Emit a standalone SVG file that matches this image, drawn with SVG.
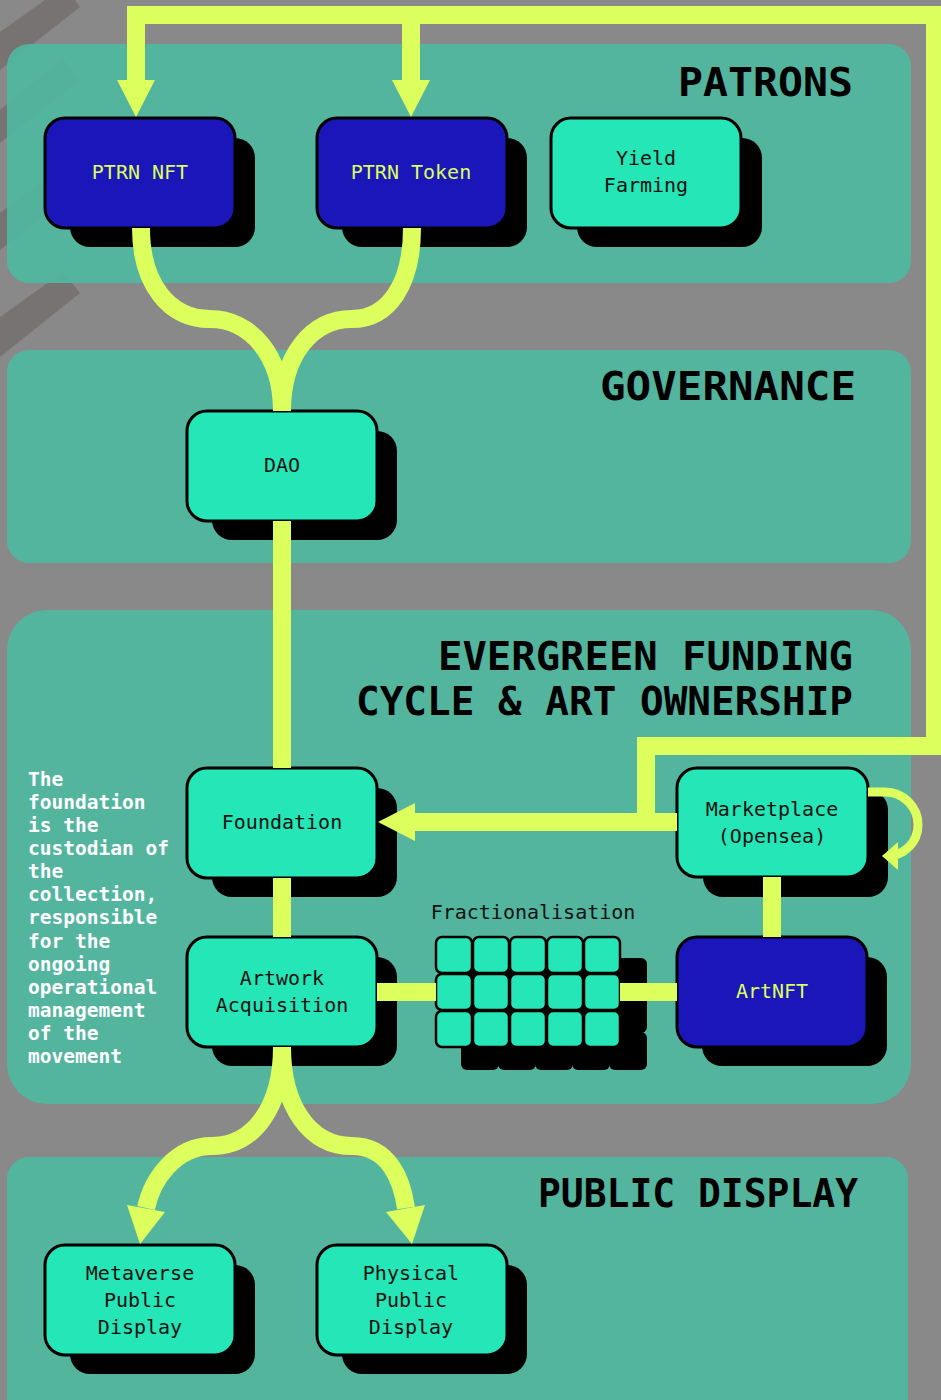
<svg xmlns="http://www.w3.org/2000/svg" width="941" height="1400" viewBox="0 0 941 1400">
<defs>
<style>
.panel{fill:#4bbda3;fill-opacity:0.85}
.stripe{fill:#787373}
.shadow{fill:#000}
.box{fill:#25e6b6;stroke:#000;stroke-width:3}
.boxb{fill:#1b16b9;stroke:#000;stroke-width:3}
.cell{fill:#25e6b6;stroke:#000;stroke-width:2.5}
.lbl{font-family:"DejaVu Sans Mono","Liberation Mono",monospace;font-size:20px;fill:#111;text-anchor:middle}
.lbly{font-family:"DejaVu Sans Mono","Liberation Mono",monospace;font-size:20px;fill:#dcff5e;text-anchor:middle}
.title{font-family:"DejaVu Sans Mono","Liberation Mono",monospace;font-size:39px;font-weight:bold;fill:#000}
.note{font-family:"DejaVu Sans Mono","Liberation Mono",monospace;font-size:19.5px;font-weight:bold;fill:#fff}
.conn{fill:none;stroke:#dcff5e;stroke-width:18;stroke-linejoin:miter}
.thin{fill:none;stroke:#dcff5e;stroke-width:9}
.head{fill:#dcff5e}
</style>
</defs>
<rect x="0" y="0" width="941" height="1400" fill="#898989"/>
<g id="stripes">
<polygon class="stripe" points="0,32 45,0 75,0 80,7 0,70"/>
<polygon class="stripe" points="0,110 63,58 80,80 0,143"/>
<polygon class="stripe" points="0,213 63,166 80,188 0,250"/>
<polygon class="stripe" points="0,317 63,272 80,293 0,357"/>
</g>
<g id="panels">
<rect class="panel" x="7" y="44" width="904" height="239" rx="22"/>
<rect class="panel" x="7" y="350" width="904" height="213" rx="22"/>
<rect class="panel" x="7" y="610" width="904" height="494" rx="40"/>
<rect class="panel" x="7" y="1157" width="901" height="270" rx="22"/>
</g>
<g id="titles">
<text class="title" x="678" y="96" textLength="175" lengthAdjust="spacingAndGlyphs">PATRONS</text>
<text class="title" x="600" y="400" textLength="256" lengthAdjust="spacingAndGlyphs">GOVERNANCE</text>
<text class="title" x="438" y="670" textLength="415" lengthAdjust="spacingAndGlyphs">EVERGREEN FUNDING</text>
<text class="title" x="356" y="715" textLength="497" lengthAdjust="spacingAndGlyphs">CYCLE &amp; ART OWNERSHIP</text>
<text class="title" x="538" y="1207" textLength="320" lengthAdjust="spacingAndGlyphs">PUBLIC DISPLAY</text>
</g>
<g id="note">
<text class="note" x="28" y="786">The</text>
<text class="note" x="28" y="809">foundation</text>
<text class="note" x="28" y="832">is the</text>
<text class="note" x="28" y="855">custodian of</text>
<text class="note" x="28" y="878">the</text>
<text class="note" x="28" y="901">collection,</text>
<text class="note" x="28" y="924">responsible</text>
<text class="note" x="28" y="948">for the</text>
<text class="note" x="28" y="971">ongoing</text>
<text class="note" x="28" y="994">operational</text>
<text class="note" x="28" y="1017">management</text>
<text class="note" x="28" y="1040">of the</text>
<text class="note" x="28" y="1063">movement</text>
</g>
<g id="node-ptrn-nft">
<rect class="shadow" x="70" y="138" width="185" height="109" rx="20"/>
<rect class="boxb" x="45" y="118" width="190" height="110" rx="20"/>
<text class="lbly" x="140" y="179">PTRN NFT</text>
</g>
<g id="node-ptrn-token">
<rect class="shadow" x="342" y="138" width="185" height="109" rx="20"/>
<rect class="boxb" x="317" y="118" width="190" height="110" rx="20"/>
<text class="lbly" x="411" y="179">PTRN Token</text>
</g>
<g id="node-yield">
<rect class="shadow" x="577" y="138" width="185" height="109" rx="20"/>
<rect class="box" x="551" y="118" width="190" height="110" rx="20"/>
<text class="lbl" x="646" y="165">Yield</text>
<text class="lbl" x="646" y="192">Farming</text>
</g>
<g id="node-dao">
<rect class="shadow" x="212" y="431" width="185" height="109" rx="20"/>
<rect class="box" x="187" y="411" width="190" height="110" rx="20"/>
<text class="lbl" x="282" y="472">DAO</text>
</g>
<g id="node-foundation">
<rect class="shadow" x="212" y="788" width="185" height="109" rx="20"/>
<rect class="box" x="187" y="768" width="190" height="110" rx="20"/>
<text class="lbl" x="282" y="829">Foundation</text>
</g>
<g id="node-marketplace">
<rect class="shadow" x="703" y="790" width="185" height="107" rx="20"/>
<rect class="box" x="677" y="768" width="191" height="109" rx="20"/>
<text class="lbl" x="772" y="816">Marketplace</text>
<text class="lbl" x="772" y="843">(Opensea)</text>
</g>
<g id="node-artwork">
<rect class="shadow" x="212" y="957" width="185" height="109" rx="20"/>
<rect class="box" x="187" y="937" width="190" height="110" rx="20"/>
<text class="lbl" x="282" y="985">Artwork</text>
<text class="lbl" x="282" y="1012">Acquisition</text>
</g>
<g id="node-artnft">
<rect class="shadow" x="702" y="957" width="185" height="109" rx="20"/>
<rect class="boxb" x="677" y="937" width="190" height="110" rx="20"/>
<text class="lbly" x="772" y="998">ArtNFT</text>
</g>
<g id="node-metaverse">
<rect class="shadow" x="70" y="1265" width="185" height="109" rx="20"/>
<rect class="box" x="45" y="1245" width="190" height="110" rx="20"/>
<text class="lbl" x="140" y="1280">Metaverse</text>
<text class="lbl" x="140" y="1307">Public</text>
<text class="lbl" x="140" y="1334">Display</text>
</g>
<g id="node-physical">
<rect class="shadow" x="342" y="1265" width="185" height="109" rx="20"/>
<rect class="box" x="317" y="1245" width="190" height="110" rx="20"/>
<text class="lbl" x="411" y="1280">Physical</text>
<text class="lbl" x="411" y="1307">Public</text>
<text class="lbl" x="411" y="1334">Display</text>
</g>
<g id="node-fractionalisation">
<g class="shadow">
<rect x="461" y="958" width="38" height="38" rx="6"/><rect x="498" y="958" width="38" height="38" rx="6"/><rect x="535" y="958" width="38" height="38" rx="6"/><rect x="572" y="958" width="38" height="38" rx="6"/><rect x="609" y="958" width="38" height="38" rx="6"/>
<rect x="461" y="995" width="38" height="38" rx="6"/><rect x="498" y="995" width="38" height="38" rx="6"/><rect x="535" y="995" width="38" height="38" rx="6"/><rect x="572" y="995" width="38" height="38" rx="6"/><rect x="609" y="995" width="38" height="38" rx="6"/>
<rect x="461" y="1032" width="38" height="38" rx="6"/><rect x="498" y="1032" width="38" height="38" rx="6"/><rect x="535" y="1032" width="38" height="38" rx="6"/><rect x="572" y="1032" width="38" height="38" rx="6"/><rect x="609" y="1032" width="38" height="38" rx="6"/>
</g>
<g>
<rect class="cell" x="436" y="937" width="36" height="36" rx="6"/><rect class="cell" x="473" y="937" width="36" height="36" rx="6"/><rect class="cell" x="510" y="937" width="36" height="36" rx="6"/><rect class="cell" x="547" y="937" width="36" height="36" rx="6"/><rect class="cell" x="584" y="937" width="36" height="36" rx="6"/>
<rect class="cell" x="436" y="974" width="36" height="36" rx="6"/><rect class="cell" x="473" y="974" width="36" height="36" rx="6"/><rect class="cell" x="510" y="974" width="36" height="36" rx="6"/><rect class="cell" x="547" y="974" width="36" height="36" rx="6"/><rect class="cell" x="584" y="974" width="36" height="36" rx="6"/>
<rect class="cell" x="436" y="1011" width="36" height="36" rx="6"/><rect class="cell" x="473" y="1011" width="36" height="36" rx="6"/><rect class="cell" x="510" y="1011" width="36" height="36" rx="6"/><rect class="cell" x="547" y="1011" width="36" height="36" rx="6"/><rect class="cell" x="584" y="1011" width="36" height="36" rx="6"/>
</g>
<text class="lbl" x="533" y="919">Fractionalisation</text>
</g>
<g id="connectors">
<path class="conn" d="M677,822 H414"/>
<polygon class="head" points="378,822 415,803 415,841"/>
<path class="conn" d="M646,831 V746 H935 V15 H136 V81"/>
<polygon class="head" points="117,80 155,80 136,117"/>
<path class="conn" d="M411,15 V81"/>
<polygon class="head" points="392,80 430,80 411,117"/>
<path class="conn" d="M141,228 C141,285 170,319 210,319 C250,319 282,355 282,411"/>
<path class="conn" d="M412,228 C412,285 388,319 352,319 C312,319 282,355 282,411"/>
<path class="conn" d="M282,521 V768"/>
<path class="conn" d="M282,878 V937"/>
<path class="conn" d="M377,992 H436"/>
<path class="conn" d="M620,992 H677"/>
<path class="conn" d="M772,877 V937"/>
<path class="thin" d="M868,792 H885 A33,33 0 0 1 918,825 A31,31 0 0 1 887,856 H897"/>
<polygon class="head" points="882,856 898,842 898,870"/>
<path class="conn" d="M282,1047 C282,1105 255,1146 212,1146 C175,1146 152,1180 146,1208"/>
<polygon class="head" points="127,1205 165,1212 140,1244"/>
<path class="conn" d="M282,1047 C282,1105 309,1146 352,1146 C389,1146 402,1180 406,1208"/>
<polygon class="head" points="386,1212 425,1205 412,1244"/>
</g>
</svg>
